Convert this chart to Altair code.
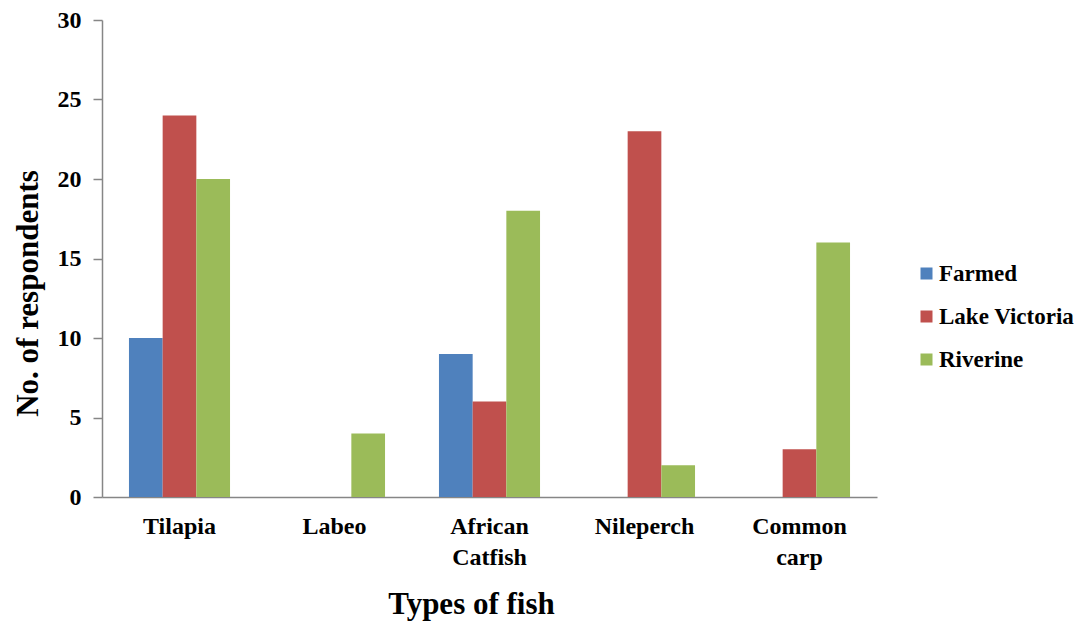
import altair as alt
import pandas as pd

categories = ["Tilapia", "Labeo", "African Catfish", "Nileperch", "Common carp"]
sources = ["Farmed", "Lake Victoria", "Riverine"]
farmed = [10, 0, 9, 0, 0]
lake_victoria = [24, 0, 6, 23, 3]
riverine = [20, 4, 18, 2, 16]
colors = ["#4F81BD", "#C0504D", "#9BBB59"]
y_ticks = [0, 5, 10, 15, 20, 25, 30]

rows = []
for src, vals in zip(sources, [farmed, lake_victoria, riverine]):
    for cat, v in zip(categories, vals):
        rows.append({"Fish": cat, "Source": src, "Count": v})
df = pd.DataFrame(rows)

FONT = "Liberation Serif"
GRAY = "#868686"

chart = alt.Chart(df).mark_bar().encode(
    x=alt.X(
        "Fish:N",
        sort=categories,
        scale=alt.Scale(paddingInner=0.348, paddingOuter=0.174),
        axis=alt.Axis(
            title="Types of fish",
            titleFont=FONT, titleFontSize=31, titleFontWeight="bold", titleColor="black",
            titleX=369, titleY=116, titleBaseline="alphabetic",
            labelFont=FONT, labelFontSize=24, labelFontWeight="bold", labelColor="black",
            labelAngle=0, labelPadding=17, labelLineHeight=31,
            labelExpr="split(datum.label, ' ')",
            ticks=False, domainColor=GRAY, domainWidth=1.5,
        ),
    ),
    xOffset=alt.XOffset("Source:N", sort=sources),
    y=alt.Y(
        "Count:Q",
        scale=alt.Scale(domain=[0, 30], nice=False),
        axis=alt.Axis(
            title="No. of respondents",
            titleFont=FONT, titleFontSize=31, titleFontWeight="bold", titleColor="black",
            titleX=-65, titleY=273, titleBaseline="alphabetic",
            labelFont=FONT, labelFontSize=24, labelFontWeight="bold", labelColor="black",
            labelPadding=12,
            values=y_ticks, grid=False,
            tickSize=9, tickColor=GRAY, domainColor=GRAY, domainWidth=1.5, tickWidth=1.5,
        ),
    ),
    color=alt.Color(
        "Source:N",
        sort=sources,
        scale=alt.Scale(domain=sources, range=colors),
        title=None,
        legend=alt.Legend(
            orient="none", legendX=813, legendY=242,
            symbolType="square", symbolSize=144, symbolStrokeWidth=0,
            labelFont=FONT, labelFontSize=23, labelFontWeight="bold", labelColor="black",
            rowPadding=19, labelOffset=1,
        ),
    ),
).properties(
    width=775,
    height=477,
    padding={"left": 94, "top": 12, "right": 202, "bottom": 124},
    autosize=alt.AutoSizeParams(type="none"),
).configure_view(stroke=None)

chart.save("out.html", embed_options={"renderer": "svg", "actions": False})
